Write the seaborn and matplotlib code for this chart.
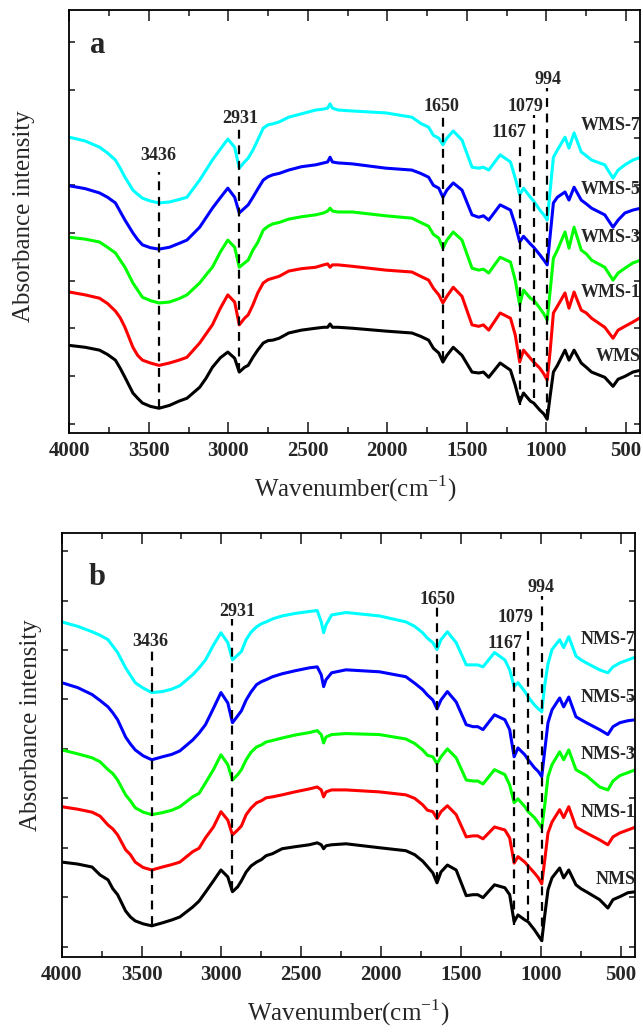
import numpy as np
import pandas as pd
import matplotlib
matplotlib.use("Agg")
import matplotlib.pyplot as plt
from matplotlib.ticker import MultipleLocator
import seaborn as sns

# ---------------- data ----------------
wavenumber = [4000, 3900, 3810, 3760, 3710, 3680, 3650, 3600, 3570, 3540,
              3490, 3436, 3370, 3310, 3260, 3180, 3140, 3100, 3050, 3003,
              2960, 2931, 2898, 2875, 2845, 2815, 2780, 2750, 2720, 2680,
              2620, 2540, 2450, 2400, 2375, 2360, 2345, 2310, 2220, 2010,
              1845, 1790, 1740, 1710, 1676, 1650, 1625, 1585, 1530, 1467,
              1425, 1395, 1362, 1290, 1225, 1195, 1167, 1143, 1100, 1079,
              1040, 1015, 994, 975, 955, 930, 882, 857, 825, 780,
              748, 715, 632, 580, 548, 505, 455, 405]

# panel a (absorbance, a.u., stacked)
wms = [1.64, 1.60, 1.54, 1.45, 1.33, 1.16, 0.97, 0.64, 0.53, 0.43,
       0.36, 0.32, 0.38, 0.47, 0.53, 0.76, 0.95, 1.18, 1.38, 1.50,
       1.37, 1.08, 1.18, 1.22, 1.39, 1.54, 1.69, 1.74, 1.75, 1.79,
       1.90, 1.96, 2.00, 2.02, 2.02, 2.09, 2.02, 2.02, 2.00, 1.94,
       1.90, 1.83, 1.75, 1.58, 1.48, 1.29, 1.43, 1.60, 1.43, 1.08,
       1.06, 1.08, 0.97, 1.27, 1.12, 0.80, 0.45, 0.64, 0.47, 0.43,
       0.28, 0.20, 0.09, 0.59, 1.08, 1.22, 1.54, 1.33, 1.54, 1.27,
       1.18, 1.08, 0.97, 0.78, 0.93, 0.99, 1.08, 1.12]
wms_1 = [2.76, 2.70, 2.63, 2.52, 2.36, 2.22, 2.02, 1.60, 1.43, 1.33,
         1.27, 1.22, 1.27, 1.33, 1.39, 1.69, 1.88, 2.07, 2.42, 2.70,
         2.55, 2.07, 2.21, 2.28, 2.49, 2.74, 2.95, 3.02, 3.05, 3.09,
         3.20, 3.25, 3.28, 3.33, 3.35, 3.28, 3.33, 3.33, 3.30, 3.22,
         3.18, 3.09, 3.01, 2.84, 2.70, 2.53, 2.67, 2.86, 2.67, 2.07,
         2.04, 2.07, 1.96, 2.32, 2.21, 1.86, 1.29, 1.54, 1.37, 1.29,
         1.16, 1.04, 0.91, 1.54, 2.32, 2.46, 2.74, 2.42, 2.76, 2.38,
         2.32, 2.21, 2.02, 1.79, 1.96, 2.04, 2.13, 2.23]
wms_3 = [3.91, 3.87, 3.81, 3.70, 3.58, 3.43, 3.28, 2.95, 2.80, 2.65,
         2.58, 2.53, 2.55, 2.62, 2.70, 2.95, 3.12, 3.28, 3.60, 3.85,
         3.70, 3.28, 3.37, 3.43, 3.64, 3.80, 4.06, 4.14, 4.19, 4.22,
         4.29, 4.34, 4.38, 4.42, 4.46, 4.52, 4.46, 4.44, 4.44, 4.36,
         4.31, 4.22, 4.14, 3.97, 3.89, 3.68, 3.85, 4.02, 3.85, 3.26,
         3.22, 3.24, 3.16, 3.49, 3.39, 3.01, 2.49, 2.80, 2.63, 2.59,
         2.42, 2.30, 2.17, 2.80, 3.47, 3.64, 4.02, 3.68, 4.12, 3.64,
         3.56, 3.43, 3.28, 3.01, 3.16, 3.26, 3.37, 3.43]
wms_5 = [4.99, 4.93, 4.84, 4.75, 4.63, 4.45, 4.27, 4.00, 3.86, 3.75,
         3.69, 3.66, 3.70, 3.78, 3.85, 4.12, 4.32, 4.52, 4.74, 4.94,
         4.75, 4.42, 4.52, 4.59, 4.75, 4.92, 5.11, 5.18, 5.22, 5.25,
         5.32, 5.39, 5.43, 5.47, 5.49, 5.59, 5.49, 5.47, 5.45, 5.36,
         5.32, 5.25, 5.17, 5.00, 4.94, 4.75, 4.90, 5.05, 4.90, 4.38,
         4.33, 4.36, 4.27, 4.59, 4.48, 4.17, 3.81, 3.93, 3.77, 3.70,
         3.54, 3.43, 3.33, 3.96, 4.63, 4.75, 4.86, 4.69, 4.96, 4.69,
         4.61, 4.52, 4.38, 4.12, 4.27, 4.42, 4.48, 4.52]
wms_7 = [6.01, 5.93, 5.80, 5.68, 5.53, 5.36, 5.17, 4.90, 4.81, 4.73,
         4.67, 4.63, 4.65, 4.70, 4.75, 5.11, 5.32, 5.53, 5.76, 5.97,
         5.80, 5.36, 5.49, 5.57, 5.74, 5.95, 6.20, 6.27, 6.29, 6.33,
         6.43, 6.50, 6.58, 6.60, 6.62, 6.71, 6.62, 6.58, 6.56, 6.52,
         6.43, 6.30, 6.22, 6.05, 5.99, 5.85, 5.99, 6.14, 5.95, 5.38,
         5.36, 5.38, 5.32, 5.64, 5.49, 5.15, 4.80, 4.94, 4.75, 4.67,
         4.48, 4.38, 4.27, 4.90, 5.59, 5.74, 6.01, 5.78, 6.10, 5.70,
         5.62, 5.53, 5.43, 5.15, 5.32, 5.43, 5.53, 5.59]

# panel b
nms = [1.71, 1.67, 1.61, 1.45, 1.35, 1.17, 1.05, 0.72, 0.60, 0.52,
       0.46, 0.42, 0.48, 0.54, 0.60, 0.80, 0.92, 1.10, 1.33, 1.55,
       1.41, 1.11, 1.21, 1.33, 1.51, 1.63, 1.71, 1.76, 1.84, 1.88,
       1.98, 2.02, 2.06, 2.10, 2.06, 1.98, 2.04, 2.06, 2.08, 2.00,
       1.94, 1.86, 1.73, 1.62, 1.49, 1.29, 1.51, 1.65, 1.55, 1.03,
       1.05, 1.05, 0.99, 1.25, 1.19, 1.05, 0.50, 0.64, 0.54, 0.50,
       0.34, 0.22, 0.12, 0.64, 1.15, 1.39, 1.59, 1.39, 1.55, 1.25,
       1.17, 1.11, 0.95, 0.78, 0.95, 1.01, 1.09, 1.11]
nms_1 = [2.83, 2.78, 2.72, 2.64, 2.46, 2.38, 2.26, 1.96, 1.86, 1.71,
         1.60, 1.55, 1.61, 1.66, 1.71, 1.92, 1.99, 2.20, 2.42, 2.73,
         2.56, 2.26, 2.36, 2.44, 2.67, 2.80, 2.91, 2.95, 3.01, 3.03,
         3.07, 3.13, 3.19, 3.23, 3.17, 3.03, 3.13, 3.17, 3.17, 3.13,
         3.07, 3.00, 2.87, 2.76, 2.73, 2.59, 2.73, 2.85, 2.67, 2.22,
         2.24, 2.24, 2.18, 2.42, 2.36, 2.20, 1.69, 1.82, 1.71, 1.63,
         1.49, 1.39, 1.27, 1.76, 2.30, 2.52, 2.77, 2.61, 2.83, 2.42,
         2.36, 2.30, 2.16, 2.06, 2.22, 2.30, 2.36, 2.42]
nms_3 = [3.98, 3.90, 3.82, 3.74, 3.58, 3.50, 3.37, 3.07, 2.95, 2.81,
         2.72, 2.67, 2.71, 2.76, 2.83, 3.03, 3.10, 3.31, 3.58, 3.88,
         3.68, 3.37, 3.48, 3.58, 3.78, 3.93, 4.04, 4.08, 4.14, 4.17,
         4.22, 4.28, 4.33, 4.37, 4.29, 4.12, 4.24, 4.29, 4.31, 4.29,
         4.20, 4.11, 3.98, 3.87, 3.84, 3.70, 3.84, 4.00, 3.82, 3.37,
         3.35, 3.35, 3.29, 3.58, 3.48, 3.27, 2.91, 2.99, 2.83, 2.73,
         2.61, 2.50, 2.40, 2.87, 3.44, 3.68, 3.94, 3.78, 3.98, 3.58,
         3.52, 3.46, 3.23, 3.17, 3.35, 3.46, 3.52, 3.58]
nms_5 = [5.34, 5.24, 5.10, 4.98, 4.85, 4.73, 4.59, 4.24, 4.10, 3.98,
         3.86, 3.78, 3.84, 3.89, 3.96, 4.18, 4.32, 4.49, 4.82, 5.14,
         4.93, 4.53, 4.67, 4.77, 4.99, 5.15, 5.30, 5.36, 5.40, 5.46,
         5.52, 5.58, 5.64, 5.66, 5.50, 5.26, 5.40, 5.54, 5.60, 5.56,
         5.46, 5.33, 5.20, 5.09, 4.99, 4.81, 4.99, 5.16, 4.95, 4.49,
         4.45, 4.45, 4.39, 4.69, 4.59, 4.39, 3.84, 4.02, 3.88, 3.78,
         3.62, 3.54, 3.44, 3.98, 4.53, 4.79, 5.03, 4.85, 5.05, 4.65,
         4.59, 4.53, 4.39, 4.29, 4.45, 4.53, 4.57, 4.59]
nms_7 = [6.57, 6.48, 6.37, 6.30, 6.21, 6.08, 5.95, 5.64, 5.49, 5.34,
         5.23, 5.14, 5.16, 5.21, 5.28, 5.50, 5.64, 5.80, 6.10, 6.35,
         6.15, 5.80, 5.90, 5.97, 6.21, 6.36, 6.47, 6.53, 6.57, 6.63,
         6.69, 6.74, 6.78, 6.80, 6.57, 6.35, 6.51, 6.71, 6.76, 6.69,
         6.57, 6.48, 6.35, 6.24, 6.15, 6.01, 6.21, 6.37, 6.15, 5.70,
         5.70, 5.70, 5.66, 5.95, 5.80, 5.60, 5.26, 5.34, 5.16, 5.05,
         4.89, 4.81, 4.75, 5.30, 5.72, 6.01, 6.21, 6.05, 6.27, 5.88,
         5.80, 5.74, 5.60, 5.54, 5.66, 5.74, 5.80, 5.86]

series_names_a = ["WMS", "WMS-1", "WMS-3", "WMS-5", "WMS-7"]
series_names_b = ["NMS", "NMS-1", "NMS-3", "NMS-5", "NMS-7"]
series_colors = ["#000000", "#ff0000", "#00ff00", "#0000ff", "#00ffff"]

# label y-positions (a.u.)
label_y_a = [1.40, 2.75, 3.90, 4.92, 6.25]
label_y_b = [1.35, 2.71, 3.88, 5.03, 6.21]

# peak markers: wavenumber, line top, line bottom, label x, label y
peaks = ["3436", "2931", "1650", "1167", "1079", "994"]
peak_pos = [3436, 2931, 1650, 1167, 1079, 994]
peak_top_a = [5.28, 6.22, 6.48, 5.83, 6.48, 7.05]
peak_bot_a = [0.32, 1.08, 1.33, 0.38, 0.53, 0.11]
peak_lx_a = [3440, 2927, 1659, 1237, 1132, 986]
peak_ly_a = [5.63, 6.41, 6.65, 6.10, 6.65, 7.23]
peak_top_b = [5.99, 6.63, 6.88, 5.97, 6.48, 7.10]
peak_bot_b = [0.44, 1.15, 1.32, 0.44, 0.54, 0.10]
peak_lx_b = [3445, 2898, 1648, 1223, 1157, 999]
peak_ly_b = [6.17, 6.79, 7.02, 6.14, 6.65, 7.26]

# ---------------- style ----------------
sns.set_theme(style="ticks")
plt.rcParams["font.family"] = ["Liberation Serif", "DejaVu Serif"]
plt.rcParams["mathtext.fontset"] = "custom"
plt.rcParams["mathtext.rm"] = "Liberation Serif"
plt.rcParams["axes.linewidth"] = 1.3

fig = plt.figure(figsize=(6.43, 10.34), dpi=100)
ax_a = fig.add_axes([0.1078, 0.5812, 0.8876, 0.4096])
ax_b = fig.add_axes([0.0960, 0.0745, 0.8916, 0.4101])


def draw_panel(ax, series, names, label_y, top, bot, lx, ly, letter,
               ylim, ylab_coords, letter_pos):
    for vals, name, col in zip(series, names, series_colors):
        df = pd.DataFrame({"w": wavenumber, "a": vals})
        sns.lineplot(data=df, x="w", y="a", color=col, lw=2.2, ax=ax,
                     estimator=None, sort=False, legend=False,
                     solid_joinstyle="round", solid_capstyle="round")
    for i, name in enumerate(names):
        ax.text(408, label_y[i], name, ha="right", va="center",
                fontsize=13, fontweight="bold", clip_on=False, zorder=5)
    for p, t, b, x, y, lab in zip(peak_pos, top, bot, lx, ly, peaks):
        ax.plot([p, p], [b, t], color="black", lw=1.6, ls=(0, (4, 3)),
                zorder=4)
        ax.text(x, y, lab, ha="center", va="center", fontsize=13,
                fontweight="bold")
    ax.text(letter_pos[0], letter_pos[1], letter, transform=ax.transAxes,
            fontsize=22, fontweight="bold", ha="center", va="baseline")
    ax.set_xlim(4000, 410)
    ax.set_ylim(*ylim)
    ax.xaxis.set_major_locator(MultipleLocator(500))
    ax.xaxis.set_minor_locator(MultipleLocator(250))
    ax.yaxis.set_major_locator(MultipleLocator(1))
    ax.set_yticklabels([])
    ax.tick_params(axis="x", which="major", direction="in", length=8,
                   width=1.2, top=True, bottom=True, labelsize=15, pad=6)
    ax.tick_params(axis="x", which="minor", direction="in", length=4.5,
                   width=1.2, top=True, bottom=True)
    ax.tick_params(axis="y", which="major", direction="in", length=4,
                   width=1.2, left=True, right=True)
    for lab in ax.get_xticklabels():
        lab.set_fontweight("bold")
    ax.set_xlabel(r"Wavenumber(cm$^{\mathregular{-1}}$)", fontsize=18)
    ax.set_ylabel("Absorbance intensity", fontsize=18)
    ax.xaxis.set_label_coords(0.5, -0.095)
    ax.yaxis.set_label_coords(*ylab_coords)
    for s in ax.spines.values():
        s.set_color("black")


draw_panel(ax_a, [wms, wms_1, wms_3, wms_5, wms_7], series_names_a,
           label_y_a, peak_top_a, peak_bot_a, peak_lx_a, peak_ly_a, "a",
           (-0.20, 8.69), (-0.060, 0.512), (0.049, 0.897))
draw_panel(ax_b, [nms, nms_1, nms_3, nms_5, nms_7], series_names_b,
           label_y_b, peak_top_b, peak_bot_b, peak_lx_b, peak_ly_b, "b",
           (-0.21, 8.37), (-0.034, 0.547), (0.061, 0.877))

fig.savefig("out.png", dpi=100)
